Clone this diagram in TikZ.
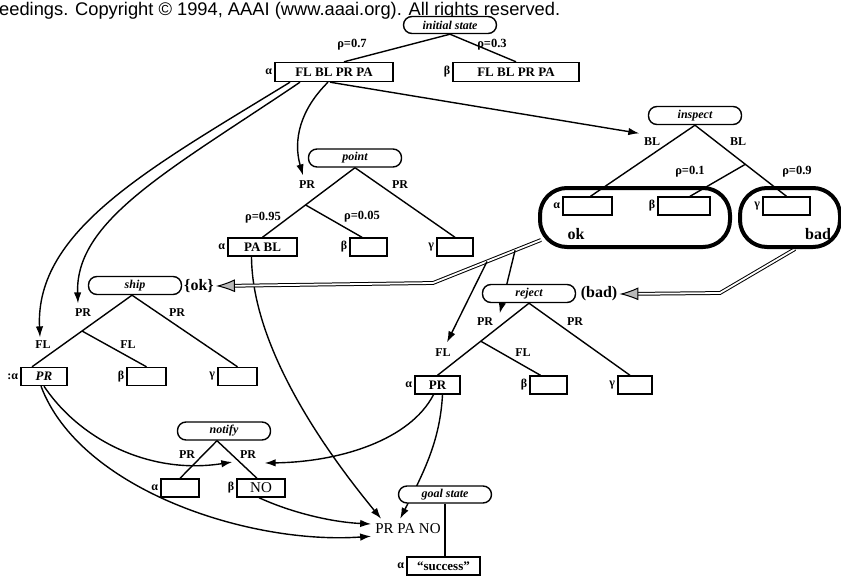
\documentclass[tikz,border=0pt]{standalone}
\usepackage{fontspec}
\setmainfont{Liberation Serif}
\newfontfamily\hdrfont{Liberation Sans}
\usetikzlibrary{arrows.meta,calc}
\pgfdeclarelayer{bg}
\pgfsetlayers{bg,main}
\begin{document}
\begin{tikzpicture}[x=1pt,y=-1pt,
  pill/.style={draw,line width=1.4pt,rounded corners=8.5pt,fill=white,minimum width=93pt,minimum height=18pt,inner sep=0pt,font=\fontsize{12}{13}\selectfont\bfseries\itshape},
  sbox/.style={draw,line width=1.4pt,fill=white,minimum height=18pt,inner sep=0pt,font=\fontsize{13}{14}\selectfont\bfseries},
  lab/.style={inner sep=0.5pt,font=\fontsize{12}{13}\selectfont\bfseries},
  rho/.style={inner sep=0.5pt,font=\fontsize{12.5}{13}\selectfont\bfseries},
  grk/.style={inner sep=0pt,font=\fontsize{12}{13}\selectfont\bfseries,anchor=east,xshift=-2pt},
  big/.style={inner sep=0pt,font=\fontsize{16}{17}\selectfont\bfseries},
  ln/.style={line width=1.4pt},
  arr/.style={line width=1.4pt,-{Latex[length=11pt,width=7.5pt]}},
  dbl/.style={double=white,double distance=1.8pt,line width=1pt,-{Latex[length=19pt,width=13pt,fill=gray!55]}},
  region/.style={draw,line width=4pt,rounded corners=27pt,inner sep=0pt}
]
\useasboundingbox (0,0) rectangle (841,576);
% header
\node[anchor=west,inner sep=0pt,font=\hdrfont\fontsize{18.3}{20}\selectfont] (hdr) at (-1,11) {eedings. Copyright © 1994, AAAI (www.aaai.org). All rights reserved.};
% initial state
\node[pill,minimum height=17pt] (init) at (450,25) {initial state};
\node[sbox,minimum width=118pt,minimum height=19pt] (i1) at (334,72) {FL BL PR PA};
\node[grk] at (i1.west) {α};
\node[sbox,minimum width=126pt,minimum height=19pt] (i2) at (516,72) {FL BL PR PA};
\node[grk] at (i2.west) {β};
\node[rho] (r07) at (352,45) {ρ=0.7};
\node[rho] (r03) at (492,45) {ρ=0.3};
% inspect
\node[pill] (insp) at (695,115.5) {inspect};
\node[region,minimum width=190pt,minimum height=59pt] (okr) at (635,217.5) {};
\node[region,minimum width=100pt,minimum height=59pt] (badr) at (790,217.5) {};
\node[sbox,minimum width=49pt] (ia) at (587.5,206) {};
\node[grk] at (ia.west) {α};
\node[sbox,minimum width=52pt] (ib) at (684,206) {};
\node[grk] at (ib.west) {β};
\node[sbox,minimum width=47pt] (ic) at (786.5,206) {};
\node[grk] at (ic.west) {γ};
\node[big] (okt) at (576,234) {ok};
\node[big] (badt) at (818,234) {bad};
\node[lab] (ibl1) at (652,142) {BL};
\node[lab] (ibl2) at (738,142) {BL};
\node[rho] (r01) at (690,172) {ρ=0.1};
\node[rho] (r09) at (797,172) {ρ=0.9};
\coordinate (ibr) at ($(insp.south)!0.55!(ic.north)$);
% point
\node[pill] (pt) at (355,158) {point};
\node[sbox,minimum width=69pt] (pa) at (262.5,247) {PA BL};
\node[grk] at (pa.west) {α};
\node[sbox,minimum width=37pt] (pb) at (368.5,247) {};
\node[grk] at (pb.west) {β};
\node[sbox,minimum width=36pt] (pc) at (455,247) {};
\node[grk] at (pc.west) {γ};
\node[lab] (ppl) at (307,185) {PR};
\node[lab] (ppr) at (400,185) {PR};
\node[rho] (r095) at (263,218) {ρ=0.95};
\node[rho] (r005) at (362,217) {ρ=0.05};
\coordinate (pbr) at ($(pt.south)!0.535!(pa.north)$);
% ship
\node[pill] (sh) at (135,285.5) {ship};
\node[big] (okl) at (199,286) {\{ok\}};
\node[sbox,minimum width=46pt,font=\fontsize{13}{14}\selectfont\bfseries\itshape] (sa) at (44,376.5) {PR};
\node[grk] at (sa.west) {:α};
\node[sbox,minimum width=39pt] (sb) at (146.5,376.5) {};
\node[grk] at (sb.west) {β};
\node[sbox,minimum width=39pt] (sc) at (237.5,376.5) {};
\node[grk] at (sc.west) {γ};
\node[lab] (spl) at (83,313) {PR};
\node[lab] (spr) at (177,313) {PR};
\node[lab] (sfl) at (43,345) {FL};
\node[lab] (sfr) at (128,345) {FL};
\coordinate (sbr) at ($([xshift=-3pt]sh.south)!0.5!([xshift=-12pt]sa.north)$);
% reject
\node[pill] (rj) at (529,293.5) {reject};
\node[big] (badl) at (599,294) {(bad)};
\node[sbox,minimum width=45pt] (ra) at (437.5,385) {PR};
\node[grk] at (ra.west) {α};
\node[sbox,minimum width=37pt] (rb) at (548.5,385) {};
\node[grk] at (rb.west) {β};
\node[sbox,minimum width=34pt] (rc) at (635,385) {};
\node[grk] at (rc.west) {γ};
\node[lab] (rpl) at (485,322) {PR};
\node[lab] (rpr) at (575,322) {PR};
\node[lab] (rfl) at (443,353) {FL};
\node[lab] (rfr) at (523,353) {FL};
\coordinate (rbr) at ($(rj.south)!0.527!(ra.north)$);
% notify
\node[pill] (nt) at (224,431) {notify};
\node[sbox,minimum width=38pt] (na) at (180,488) {};
\node[grk] at (na.west) {α};
\node[sbox,minimum width=48pt,font=\fontsize{15}{16}\selectfont] (nb) at (261,488) {NO};
\node[grk] at (nb.west) {β};
\node[lab] (npl) at (187,455) {PR};
\node[lab] (npr) at (248,455) {PR};
% goal
\node[pill,minimum height=17pt] (gs) at (445,494.5) {goal state};
\node[sbox,minimum width=73pt] (gb) at (443.5,566) {“success”};
\node[grk] at (gb.west) {α};
\node[inner sep=1pt,font=\fontsize{15}{16}\selectfont] (ppn) at (408,529) {PR PA NO};

\begin{pgfonlayer}{bg}
\draw[ln] (init.south) -- ([xshift=10pt]i1.north);
\draw[ln] (init.south) -- (i2.north);
\draw[arr] ([xshift=-44pt]i1.south) .. controls (150,168) and (35,230) .. ([xshift=-3pt,yshift=3pt]sfl.north);
\draw[arr] ([xshift=-34pt]i1.south) .. controls (170,170) and (75,220) .. ([xshift=-5pt,yshift=5pt]spl.north);
\draw[arr] ([xshift=-6pt]i1.south) .. controls (300,110) and (293,140) .. ([xshift=-4pt,yshift=5pt]ppl.north);
\draw[arr] ([xshift=-4pt]i1.south) -- ([xshift=-4pt,yshift=4pt]ibl1.north west);
% inspect
\draw[ln] (insp.south) -- ([xshift=3pt]ia.north);
\draw[ln] (insp.south) -- (ic.north);
\draw[ln] (ibr) -- ([xshift=6pt]ib.north);
% point
\draw[ln] (pt.south) -- (pa.north);
\draw[ln] (pt.south) -- (pc.north);
\draw[ln] (pbr) -- ([xshift=-6.5pt]pb.north);
% ship
\draw[ln] ([xshift=-3pt]sh.south) -- ([xshift=-12pt]sa.north);
\draw[ln] ([xshift=-3pt]sh.south) -- (sc.north);
\draw[ln] (sbr) -- (sb.north);
% reject
\draw[ln] (rj.south) -- (ra.north);
\draw[ln] (rj.south) -- ([xshift=-5pt]rc.north);
\draw[ln] (rbr) -- ([xshift=-8pt]rb.north);
% notify
\draw[ln] ([xshift=-7pt]nt.south) -- (na.north);
\draw[ln] ([xshift=-7pt]nt.south) -- ([xshift=-4pt]nb.north);
% goal
\draw[ln] (gs.south) -- (gs.south |- gb.north);
% long curves
\draw[arr] ([xshift=-11pt]pa.south) .. controls (252,330) and (300,420) .. ([xshift=7pt,yshift=4pt]ppn.north west);
\draw[arr] ([xshift=5pt]ra.south) .. controls (440,440) and (425,470) .. ([xshift=26pt,yshift=4pt]ppn.north west);
\draw[arr] ([xshift=-4pt]ra.south) .. controls (410,440) and (340,462) .. ([xshift=8pt,yshift=-8pt]npr.east);
\draw[arr] (sa.south) .. controls (80,440) and (150,475) .. ([xshift=-7pt,yshift=-7pt]npr.west);
\draw[arr] ([xshift=-3pt]sa.south) .. controls (80,490) and (250,545) .. ([xshift=-3pt,yshift=-1pt]ppn.south west);
\draw[arr] ([xshift=-2pt]nb.south) .. controls (290,512) and (330,522) .. ([xshift=-3pt,yshift=5pt]ppn.west);
% ok / bad
\coordinate (oks) at ([xshift=3pt,yshift=9pt]okr.south west);
\coordinate (okb) at (433,283);
\draw[dbl] (oks) -- (okb) -- ([xshift=2pt]okl.east);
\coordinate (okd1) at ($(oks)!0.24!(okb)$);
\coordinate (okd2) at ($(oks)!0.5!(okb)$);
\draw[arr] (okd1) -- ([xshift=6pt,yshift=4pt]rpl.north east);
\draw[arr] (okd2) -- ([xshift=4pt,yshift=6pt]rfl.north);
\coordinate (bads) at ([xshift=5pt]badr.south);
\coordinate (badb) at (720,293);
\draw[dbl] (bads) -- (badb) -- ([xshift=2pt]badl.east);
\end{pgfonlayer}
\end{tikzpicture}
\end{document}
